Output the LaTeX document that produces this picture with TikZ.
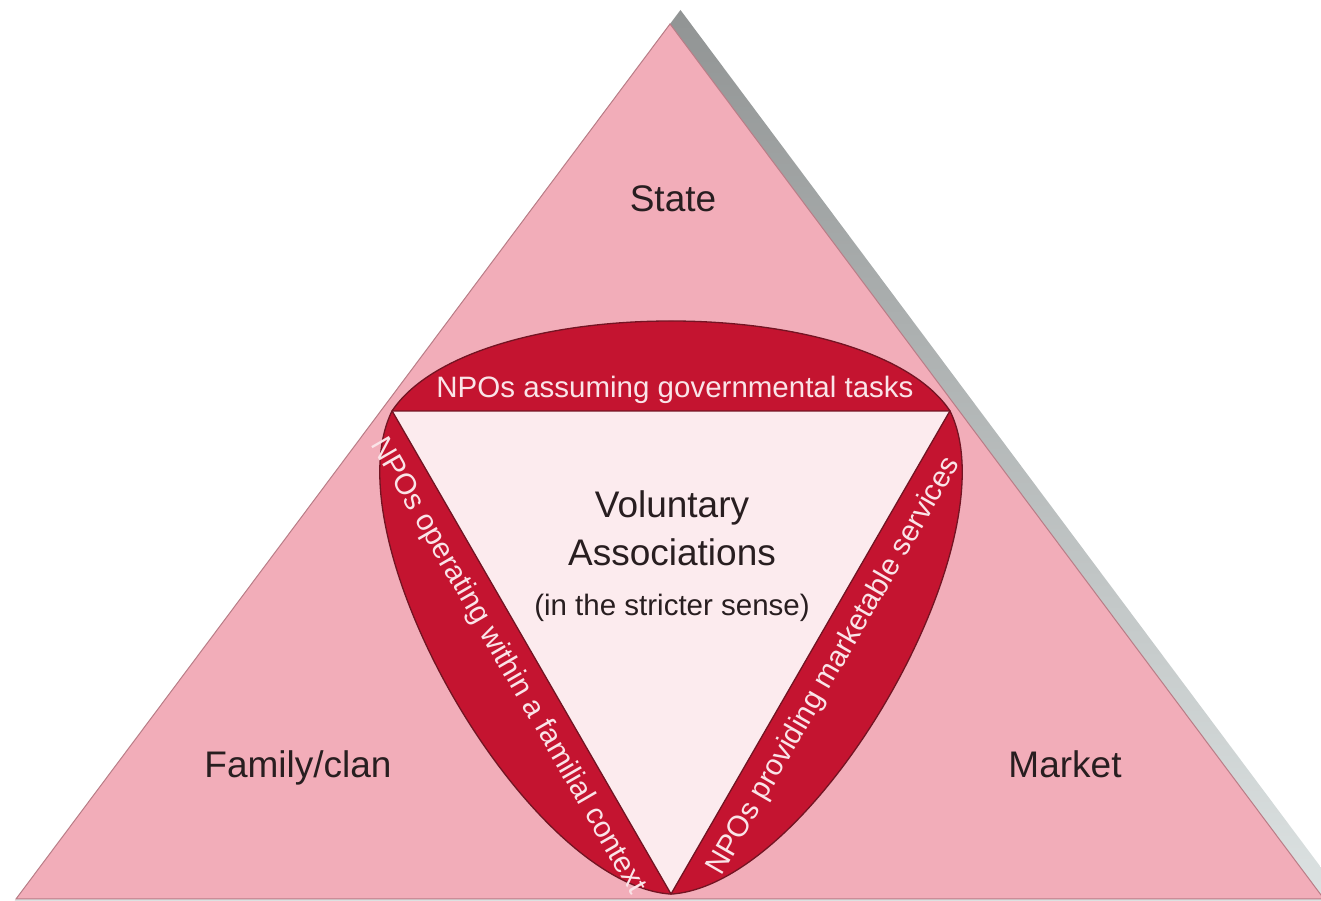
\documentclass[tikz,border=0pt]{standalone}
\usepackage{fontspec}
\setmainfont{Liberation Sans}
\definecolor{outerpink}{RGB}{242,173,185}
\definecolor{outeredge}{RGB}{185,125,135}
\definecolor{innerpink}{RGB}{252,235,238}
\definecolor{lensred}{RGB}{196,20,48}
\definecolor{lensedge}{RGB}{115,20,35}
\definecolor{lenswhite}{RGB}{250,228,232}
\definecolor{darktext}{RGB}{40,30,32}
\definecolor{shadowtop}{RGB}{145,148,148}
\definecolor{shadowbot}{RGB}{222,228,228}
\begin{document}
\begin{tikzpicture}[x=1pt,y=1pt,
  outertri/.style={fill=outerpink, draw=outeredge, line width=1pt, line join=miter},
  innertri/.style={fill=innerpink},
  lensshape/.style={fill=lensred, draw=lensedge, line width=1.3pt, line join=round},
  bigtext/.style={text=darktext, font=\fontsize{37}{44}\selectfont, inner sep=0pt, anchor=base},
  midtext/.style={text=darktext, font=\fontsize{29.5}{35}\selectfont, inner sep=0pt, anchor=base},
  lenstext/.style={text=lenswhite, font=\fontsize{29.5}{35}\selectfont, inner sep=0pt, anchor=base}]
\useasboundingbox (0,0) rectangle (1321,901);
% coordinates of the outer triangle
\coordinate (apex) at (670,877);
\coordinate (bl) at (16,2);
\coordinate (br) at (1324,2);
% shadow
\coordinate (sapex) at (680.46,891);
\coordinate (sbr) at (1361,-20);
\coordinate (sbl) at (-0.4,-20);
\shade[top color=shadowtop, bottom color=shadowbot] (sapex) -- (sbr) -- (sbl) -- cycle;
% outer triangle
\draw[outertri] (apex) -- (br) -- (bl) -- cycle;
% inner triangle
\coordinate (A) at (392.1,490);
\coordinate (B) at (949.9,490);
\coordinate (C) at (671,7);
\fill[innertri] (A) -- (B) -- (C) -- cycle;
% lenses
\foreach \r in {0,120,-120}{
  \begin{scope}[shift={(671,329)}, rotate=\r]
    \draw[lensshape] (-279,161) .. controls (-199,281) and (199,281) .. (279,161) -- cycle;
  \end{scope}
}
% texts
\node[bigtext] (state) at (673,689) {State};
\node[bigtext] (family) at (298,123) {Family/clan};
\node[bigtext] (market) at (1065,123) {Market};
\node[bigtext] (vol) at (672,383) {Voluntary};
\node[bigtext] (assoc) at (672,335) {Associations};
\node[midtext] (sense) at (672,285) {(in the stricter sense)};
\node[lenstext] (gov) at (675,503) {NPOs assuming governmental tasks};
\node[lenstext, rotate=-60] (fam) at (501.3,231) {NPOs operating within a familial context};
\node[lenstext, rotate=60] (mkt) at (840.7,231) {NPOs providing marketable services};
\end{tikzpicture}
\end{document}
